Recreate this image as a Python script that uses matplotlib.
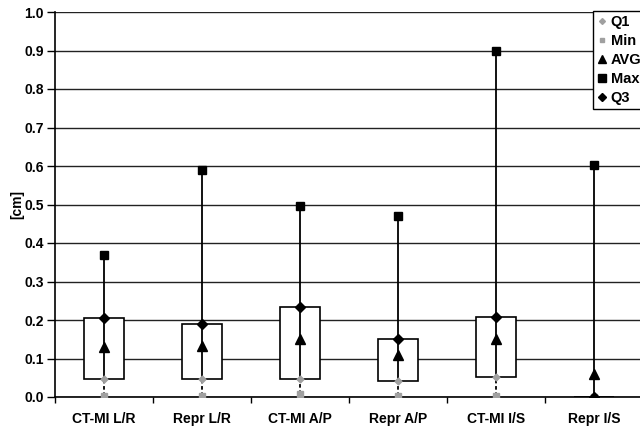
import matplotlib.pyplot as plt
import numpy as np

plt.rcParams['font.family'] = ['Liberation Sans', 'DejaVu Sans']
plt.rcParams['font.weight'] = 'bold'

# values (cm)
categories = ['CT-MI L/R', 'Repr L/R', 'CT-MI A/P', 'Repr A/P', 'CT-MI I/S', 'Repr I/S']
q1 = [0.047, 0.047, 0.047, 0.042, 0.053, 0.0]
mins = [0.003, 0.003, 0.008, 0.003, 0.003, 0.0]
avg = [0.131, 0.133, 0.151, 0.109, 0.151, 0.060]
maxs = [0.37, 0.59, 0.495, 0.471, 0.90, 0.602]
q3 = [0.206, 0.190, 0.235, 0.151, 0.209, 0.0]
yticks = [0.0, 0.1, 0.2, 0.3, 0.4, 0.5, 0.6, 0.7, 0.8, 0.9, 1.0]

fig = plt.figure(figsize=(6.4, 4.28), dpi=100)
ax = fig.add_axes([55 / 640, 31 / 428, 588 / 640, 385 / 428])

x = np.arange(len(categories))
box_w = 0.4

# grid lines
for yv in yticks:
    ax.axhline(yv, color='#222222', lw=1.0, zorder=0)

# boxes between Q1 and Q3
for xi, lo, hi in zip(x, q1, q3):
    ax.add_patch(plt.Rectangle((xi - box_w / 2, lo), box_w, hi - lo,
                               facecolor='white', edgecolor='black', lw=1.2, zorder=2))

# whiskers
for xi, mn, lo, mx in zip(x, mins, q1, maxs):
    ax.plot([xi, xi], [lo, mx], color='black', lw=1.3, zorder=3)
    ax.plot([xi, xi], [mn, lo], color='black', lw=1.3, ls=(0, (2, 1.5)), zorder=3)

ax.plot(x, q1, 'D', color='#a0a0a0', ms=3.5, ls='none', label='Q1', zorder=4)
ax.plot(x, mins, 's', color='#a0a0a0', ms=4, ls='none', label='Min', zorder=4)
ax.plot(x, avg, '^', color='black', ms=6.5, ls='none', label='AVG', zorder=4)
ax.plot(x, maxs, 's', color='black', ms=6, ls='none', label='Max', zorder=4)
ax.plot(x, q3, 'D', color='black', ms=5, ls='none', label='Q3', zorder=5)

ax.set_xlim(-0.5, len(categories) - 0.5)
ax.set_ylim(0, 1.0)
ax.set_yticks(yticks)
ax.set_yticklabels([f'{v:.1f}' for v in yticks], fontsize=10, fontweight='bold')
ax.set_xticks(x)
ax.set_xticklabels(categories, fontsize=10, fontweight='bold')
ax.tick_params(axis='x', length=0, pad=11)
ax.set_xticks(np.arange(len(categories) + 1) - 0.5, minor=True)
ax.tick_params(axis='x', which='minor', length=4, width=1, direction='out')
ax.tick_params(axis='y', length=6, width=1, direction='out', pad=2)

for s in ['top', 'right']:
    ax.spines[s].set_visible(False)
ax.spines['left'].set_linewidth(1.2)
ax.spines['bottom'].set_linewidth(1.2)

ax.set_ylabel('[cm]', fontsize=10, fontweight='bold')
ax.yaxis.set_label_coords(-0.053, 0.5)

leg = fig.legend(loc='upper left', bbox_to_anchor=(593 / 640, 1 - 11 / 428),
                 fontsize=10.5, handlelength=0.7, handletextpad=0.25, borderpad=0.25,
                 labelspacing=0.35, fancybox=False, framealpha=1, borderaxespad=0,
                 markerscale=0.85)
leg.get_frame().set_edgecolor('black')
leg.get_frame().set_linewidth(1.0)

fig.savefig('out.png', dpi=100)
